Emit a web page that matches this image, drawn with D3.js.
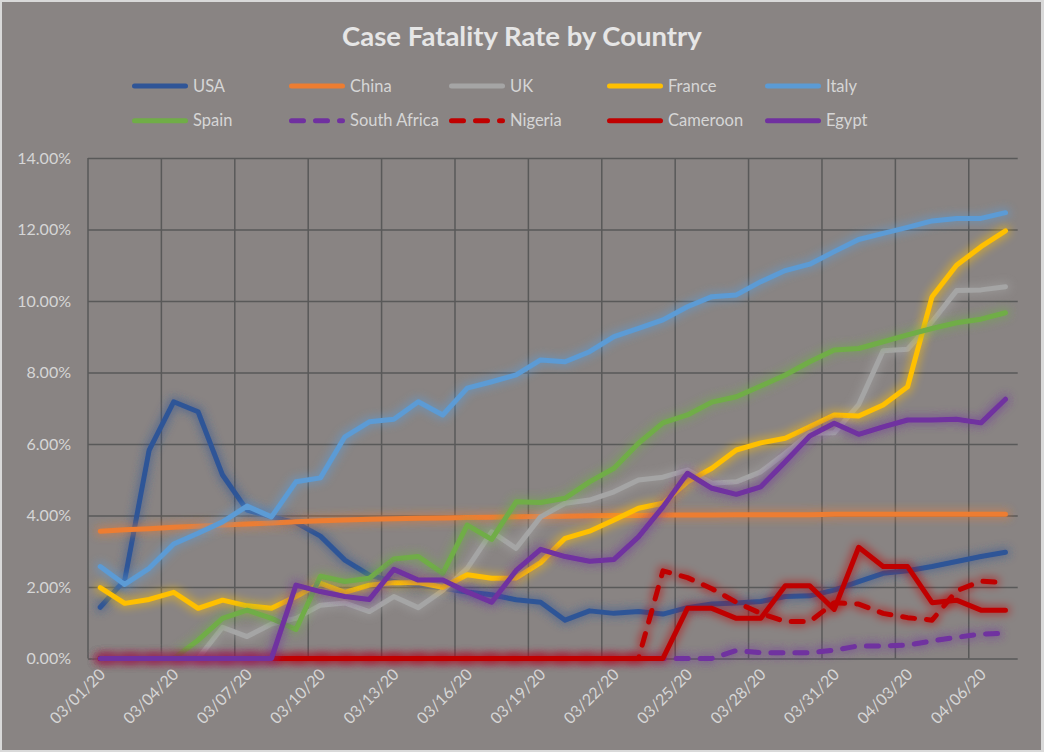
<!DOCTYPE html>
<html>
<head>
<meta charset="utf-8">
<script src="https://cdn.jsdelivr.net/npm/d3@7"></script>
<style>
  html, body { margin: 0; padding: 0; background: #d9d9d9; }
  svg { display: block; }
  text { font-family: Lato, "Open Sans", sans-serif; }
</style>
</head>
<body>
<svg id="chart" width="1044" height="752"></svg>
<script>
// ---------- DATA ----------
const dates = [
  "03/01/20","03/02/20","03/03/20","03/04/20","03/05/20","03/06/20","03/07/20","03/08/20",
  "03/09/20","03/10/20","03/11/20","03/12/20","03/13/20","03/14/20","03/15/20","03/16/20",
  "03/17/20","03/18/20","03/19/20","03/20/20","03/21/20","03/22/20","03/23/20","03/24/20",
  "03/25/20","03/26/20","03/27/20","03/28/20","03/29/20","03/30/20","03/31/20","04/01/20",
  "04/02/20","04/03/20","04/04/20","04/05/20","04/06/20","04/07/20"
];
const yTicks = [0, 2, 4, 6, 8, 10, 12, 14];

const usa = [1.43, 2.19, 5.83, 7.18, 6.90, 5.13, 4.15, 3.96, 3.80, 3.42, 2.75, 2.33, 2.15, 2.05, 1.96, 1.86,
  1.78, 1.64, 1.57, 1.07, 1.33, 1.26, 1.31, 1.24, 1.42, 1.52, 1.55, 1.59, 1.73, 1.75, 1.91, 2.15,
  2.38, 2.45, 2.57, 2.71, 2.85, 2.97];
const china = [3.56, 3.60, 3.63, 3.67, 3.70, 3.73, 3.76, 3.79, 3.82, 3.85, 3.87, 3.89, 3.91, 3.92, 3.93, 3.94,
  3.95, 3.96, 3.97, 3.98, 3.99, 4.00, 4.00, 4.01, 4.01, 4.01, 4.02, 4.02, 4.02, 4.02, 4.03, 4.03,
  4.03, 4.03, 4.03, 4.03, 4.03, 4.03];
const uk = [0, 0, 0, 0, 0, 0.87, 0.61, 0.96, 1.12, 1.49, 1.55, 1.31, 1.73, 1.42, 1.90, 2.52,
  3.54, 3.08, 3.96, 4.34, 4.43, 4.66, 4.99, 5.07, 5.27, 4.90, 4.94, 5.22, 5.74, 6.30, 6.31, 7.10,
  8.61, 8.65, 9.42, 10.29, 10.31, 10.40];
const france = [1.98, 1.54, 1.65, 1.85, 1.40, 1.63, 1.47, 1.40, 1.73, 2.10, 1.85, 2.05, 2.12, 2.12, 1.99, 2.34,
  2.24, 2.25, 2.68, 3.36, 3.56, 3.87, 4.20, 4.34, 4.94, 5.32, 5.83, 6.03, 6.16, 6.48, 6.81, 6.78,
  7.09, 7.60, 10.12, 11.00, 11.52, 11.96];
const italy = [2.57, 2.07, 2.52, 3.20, 3.50, 3.82, 4.26, 3.96, 4.94, 5.05, 6.20, 6.62, 6.69, 7.18, 6.81, 7.56,
  7.74, 7.93, 8.35, 8.30, 8.58, 9.00, 9.23, 9.47, 9.84, 10.12, 10.17, 10.54, 10.85, 11.03, 11.38, 11.72,
  11.89, 12.06, 12.24, 12.31, 12.31, 12.47];
const spain = [0, 0, 0, 0, 0.51, 1.12, 1.35, 1.12, 0.81, 2.30, 2.15, 2.24, 2.78, 2.85, 2.38, 3.73,
  3.33, 4.38, 4.36, 4.48, 4.94, 5.32, 6.02, 6.59, 6.81, 7.17, 7.32, 7.62, 7.93, 8.30, 8.63, 8.67,
  8.86, 9.05, 9.23, 9.39, 9.49, 9.67];
const southAfrica = [0, 0, 0, 0, 0, 0, 0, 0, 0, 0, 0, 0, 0, 0, 0, 0,
  0, 0, 0, 0, 0, 0, 0, 0, 0, 0, 0.22, 0.16, 0.16, 0.16, 0.23, 0.35,
  0.35, 0.37, 0.49, 0.59, 0.68, 0.70];
const nigeria = [0, 0, 0, 0, 0, 0, 0, 0, 0, 0, 0, 0, 0, 0, 0, 0,
  0, 0, 0, 0, 0, 0, 0, 2.45, 2.26, 1.95, 1.57, 1.26, 1.03, 1.03, 1.56, 1.52,
  1.26, 1.14, 1.07, 1.89, 2.16, 2.12];
const cameroon = [0, 0, 0, 0, 0, 0, 0, 0, 0, 0, 0, 0, 0, 0, 0, 0,
  0, 0, 0, 0, 0, 0, 0, 0, 1.40, 1.40, 1.12, 1.12, 2.03, 2.03, 1.37, 3.11,
  2.57, 2.57, 1.56, 1.63, 1.35, 1.35];
const egypt = [0, 0, 0, 0, 0, 0, 0, 0, 2.05, 1.87, 1.73, 1.65, 2.49, 2.19, 2.19, 1.86,
  1.57, 2.46, 3.05, 2.85, 2.72, 2.77, 3.40, 4.24, 5.18, 4.76, 4.59, 4.80, 5.50, 6.22, 6.58, 6.27,
  6.48, 6.67, 6.67, 6.69, 6.59, 7.25];

const seriesNames = ["USA", "China", "UK", "France", "Italy", "Spain", "South Africa", "Nigeria", "Cameroon", "Egypt"];
const seriesValues = [usa, china, uk, france, italy, spain, southAfrica, nigeria, cameroon, egypt];
const seriesColors = ["#2f5597", "#ed7d31", "#a5a5a5", "#ffc000", "#5b9bd5", "#70ad47", "#7030a0", "#c00000", "#c00000", "#7030a0"];
const seriesDashed = [false, false, false, false, false, false, true, true, false, false];

// ---------- LAYOUT ----------
const W = 1044, H = 752;
const plot = { left: 88, right: 1017.7, top: 158, bottom: 658.4 };

const svg = d3.select("#chart");

const defs = svg.append("defs");
seriesColors.forEach((c, i) => {
  const f = defs.append("filter").attr("id", "glow" + i)
    .attr("filterUnits", "userSpaceOnUse")
    .attr("x", 0).attr("y", 0).attr("width", W).attr("height", H);
  f.append("feMorphology").attr("in", "SourceGraphic").attr("operator", "dilate").attr("radius", 2).attr("result", "d");
  f.append("feGaussianBlur").attr("in", "d").attr("stdDeviation", 4.5).attr("result", "b");
  const ct = f.append("feComponentTransfer").attr("in", "b").attr("result", "c");
  ct.append("feFuncA").attr("type", "linear").attr("slope", 0.5);
  const m = f.append("feMerge");
  m.append("feMergeNode").attr("in", "c");
  m.append("feMergeNode").attr("in", "SourceGraphic");
});

// background
svg.append("rect").attr("x", 0).attr("y", 0).attr("width", W).attr("height", H).attr("fill", "#d9d9d9");
svg.append("rect").attr("x", 2).attr("y", 2).attr("width", 1039).attr("height", 748).attr("fill", "#898483");

// scales
const x = d3.scaleBand().domain(dates).range([plot.left, plot.right]).padding(0);
const y = d3.scaleLinear().domain([0, 14]).range([plot.bottom, plot.top]);
const cx = d => x(d) + x.bandwidth() / 2;

// horizontal gridlines + y labels
const yAxis = d3.axisLeft(y).tickValues(yTicks)
  .tickSize(-(plot.right - plot.left)).tickPadding(17)
  .tickFormat(v => v.toFixed(2) + "%");
const gy = svg.append("g").attr("transform", `translate(${plot.left},0)`).call(yAxis);
gy.select(".domain").remove();
gy.selectAll(".tick line").attr("stroke", "#595959").attr("stroke-width", 1.5);
gy.selectAll(".tick text").attr("fill", "#d6d6d6").attr("font-size", 16);

// vertical gridlines (every 3 categories, at category boundaries)
const vTickDates = dates.filter((d, i) => i % 3 === 0);
svg.append("g").selectAll("line").data(vTickDates).join("line")
  .attr("x1", d => x(d)).attr("x2", d => x(d))
  .attr("y1", plot.top).attr("y2", plot.bottom)
  .attr("stroke", "#595959").attr("stroke-width", 1.5);

// x labels
const xAxis = d3.axisBottom(x).tickValues(vTickDates).tickSize(0).tickPadding(0);
const gx = svg.append("g").attr("transform", `translate(0,${plot.bottom})`).call(xAxis);
gx.select(".domain").remove();
gx.selectAll(".tick text")
  .attr("fill", "#d6d6d6").attr("font-size", 16)
  .attr("text-anchor", "end")
  .attr("dy", 0).attr("y", 0)
  .attr("transform", "translate(6,17) rotate(-45)");

// lines
const line = d3.line().x((v, i) => cx(dates[i])).y(v => y(v));
const gl = svg.append("g");
seriesValues.forEach((vals, i) => {
  gl.append("path").datum(vals)
    .attr("d", line)
    .attr("fill", "none")
    .attr("stroke", seriesColors[i])
    .attr("stroke-width", 5)
    .attr("stroke-linejoin", "round")
    .attr("stroke-linecap", "round")
    .attr("stroke-dasharray", seriesDashed[i] ? "12 12" : null)
    .attr("filter", `url(#glow${i})`);
});

// title
svg.append("text").attr("x", 522).attr("y", 46).attr("text-anchor", "middle")
  .attr("font-size", 27.5).attr("font-weight", "bold").attr("fill", "#e6e6e6")
  .text("Case Fatality Rate by Country");

// legend
const legX = [132, 289, 449, 607, 765];
const legY = [86, 120.7];
const lg = svg.append("g");
seriesNames.forEach((n, i) => {
  const lx = legX[i % 5], ly = legY[Math.floor(i / 5)];
  lg.append("line").attr("x1", lx + 2.5).attr("x2", lx + 53.5).attr("y1", ly).attr("y2", ly)
    .attr("stroke", seriesColors[i]).attr("stroke-width", 5).attr("stroke-linecap", "round")
    .attr("stroke-dasharray", seriesDashed[i] ? "12 12" : null);
  lg.append("text").attr("x", lx + 61).attr("y", ly).attr("dy", "0.35em")
    .attr("font-size", 16.5).attr("fill", "#d6d6d6").text(n);
});
</script>
</body>
</html>
